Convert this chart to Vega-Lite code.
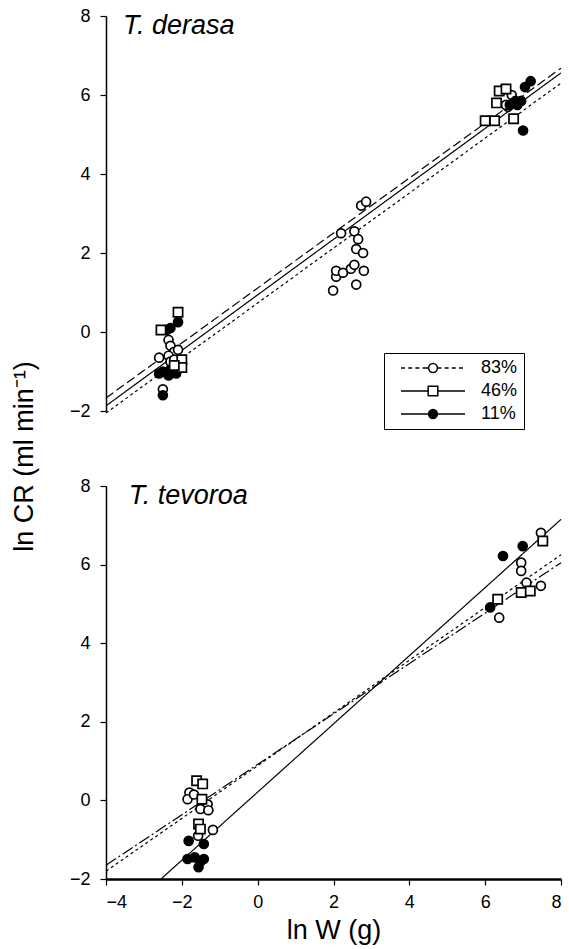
{
  "$schema": "https://vega.github.io/schema/vega-lite/v6.json",
  "padding": {"left": 10, "top": 7, "right": 5, "bottom": 5},
  "background": "white",
  "config": {
    "view": {"stroke": null},
    "font": "Liberation Sans",
    "axis": {"grid": false, "domainColor": "black", "tickColor": "black", "labelColor": "black", "titleColor": "black", "labelFont": "Liberation Sans", "titleFont": "Liberation Sans", "labelFontSize": 18, "titleFontSize": 27, "titleFontWeight": "normal", "domainWidth": 1.5, "tickWidth": 1.2}
  },
  "datasets": {
    "points": [
      {"panel": "T. derasa", "group": "83%", "x": -2.6, "y": -0.65},
      {"panel": "T. derasa", "group": "83%", "x": -2.35, "y": -0.2},
      {"panel": "T. derasa", "group": "83%", "x": -2.3, "y": -0.35},
      {"panel": "T. derasa", "group": "83%", "x": -2.2, "y": -0.5},
      {"panel": "T. derasa", "group": "83%", "x": -2.1, "y": -0.45},
      {"panel": "T. derasa", "group": "83%", "x": -2.35, "y": -0.6},
      {"panel": "T. derasa", "group": "83%", "x": -2.3, "y": -0.75},
      {"panel": "T. derasa", "group": "83%", "x": -2.5, "y": -1.45},
      {"panel": "T. derasa", "group": "83%", "x": -2.2, "y": -0.7},
      {"panel": "T. derasa", "group": "83%", "x": 1.99, "y": 1.05},
      {"panel": "T. derasa", "group": "83%", "x": 2.07, "y": 1.4},
      {"panel": "T. derasa", "group": "83%", "x": 2.07, "y": 1.55},
      {"panel": "T. derasa", "group": "83%", "x": 2.25, "y": 1.5},
      {"panel": "T. derasa", "group": "83%", "x": 2.2, "y": 2.5},
      {"panel": "T. derasa", "group": "83%", "x": 2.46, "y": 1.6},
      {"panel": "T. derasa", "group": "83%", "x": 2.55, "y": 1.7},
      {"panel": "T. derasa", "group": "83%", "x": 2.55, "y": 2.55},
      {"panel": "T. derasa", "group": "83%", "x": 2.65, "y": 2.35},
      {"panel": "T. derasa", "group": "83%", "x": 2.6, "y": 2.1},
      {"panel": "T. derasa", "group": "83%", "x": 2.78, "y": 2.0},
      {"panel": "T. derasa", "group": "83%", "x": 2.8, "y": 1.55},
      {"panel": "T. derasa", "group": "83%", "x": 2.6, "y": 1.2},
      {"panel": "T. derasa", "group": "83%", "x": 2.73, "y": 3.2},
      {"panel": "T. derasa", "group": "83%", "x": 2.86, "y": 3.3},
      {"panel": "T. derasa", "group": "83%", "x": 6.5, "y": 6.15},
      {"panel": "T. derasa", "group": "83%", "x": 6.7, "y": 6.0},
      {"panel": "T. derasa", "group": "83%", "x": 6.6, "y": 5.7},
      {"panel": "T. derasa", "group": "83%", "x": 6.55, "y": 5.75},
      {"panel": "T. derasa", "group": "46%", "x": -2.55, "y": 0.05},
      {"panel": "T. derasa", "group": "46%", "x": -2.1, "y": 0.5},
      {"panel": "T. derasa", "group": "46%", "x": -2.0, "y": -0.7},
      {"panel": "T. derasa", "group": "46%", "x": -2.0, "y": -0.9},
      {"panel": "T. derasa", "group": "46%", "x": -2.2, "y": -0.85},
      {"panel": "T. derasa", "group": "46%", "x": 6.37, "y": 6.1},
      {"panel": "T. derasa", "group": "46%", "x": 6.3, "y": 5.8},
      {"panel": "T. derasa", "group": "46%", "x": 6.0, "y": 5.35},
      {"panel": "T. derasa", "group": "46%", "x": 6.25, "y": 5.35},
      {"panel": "T. derasa", "group": "46%", "x": 6.75, "y": 5.4},
      {"panel": "T. derasa", "group": "46%", "x": 6.55, "y": 6.15},
      {"panel": "T. derasa", "group": "11%", "x": -2.4, "y": 0.05},
      {"panel": "T. derasa", "group": "11%", "x": -2.3, "y": 0.1},
      {"panel": "T. derasa", "group": "11%", "x": -2.1, "y": 0.25},
      {"panel": "T. derasa", "group": "11%", "x": -2.6, "y": -1.05},
      {"panel": "T. derasa", "group": "11%", "x": -2.5, "y": -1.0},
      {"panel": "T. derasa", "group": "11%", "x": -2.3, "y": -0.95},
      {"panel": "T. derasa", "group": "11%", "x": -2.15, "y": -1.05},
      {"panel": "T. derasa", "group": "11%", "x": -2.5, "y": -1.6},
      {"panel": "T. derasa", "group": "11%", "x": -2.35, "y": -1.1},
      {"panel": "T. derasa", "group": "11%", "x": 7.2, "y": 6.35},
      {"panel": "T. derasa", "group": "11%", "x": 7.05, "y": 6.2},
      {"panel": "T. derasa", "group": "11%", "x": 6.8, "y": 5.85},
      {"panel": "T. derasa", "group": "11%", "x": 6.95, "y": 5.85},
      {"panel": "T. derasa", "group": "11%", "x": 6.65, "y": 5.75},
      {"panel": "T. derasa", "group": "11%", "x": 7.0, "y": 5.1},
      {"panel": "T. derasa", "group": "11%", "x": 6.85, "y": 5.75},
      {"panel": "T. tevoroa", "group": "83%", "x": -1.8, "y": 0.2},
      {"panel": "T. tevoroa", "group": "83%", "x": -1.85, "y": 0.03},
      {"panel": "T. tevoroa", "group": "83%", "x": -1.68, "y": 0.15},
      {"panel": "T. tevoroa", "group": "83%", "x": -1.32, "y": -0.1},
      {"panel": "T. tevoroa", "group": "83%", "x": -1.51, "y": -0.22},
      {"panel": "T. tevoroa", "group": "83%", "x": -1.3, "y": -0.25},
      {"panel": "T. tevoroa", "group": "83%", "x": -1.18, "y": -0.75},
      {"panel": "T. tevoroa", "group": "83%", "x": -1.57, "y": -0.9},
      {"panel": "T. tevoroa", "group": "83%", "x": 7.47, "y": 6.81},
      {"panel": "T. tevoroa", "group": "83%", "x": 6.95, "y": 6.05},
      {"panel": "T. tevoroa", "group": "83%", "x": 6.95, "y": 5.84},
      {"panel": "T. tevoroa", "group": "83%", "x": 7.09, "y": 5.54},
      {"panel": "T. tevoroa", "group": "83%", "x": 7.47, "y": 5.46},
      {"panel": "T. tevoroa", "group": "83%", "x": 6.37, "y": 4.65},
      {"panel": "T. tevoroa", "group": "46%", "x": -1.61, "y": 0.5},
      {"panel": "T. tevoroa", "group": "46%", "x": -1.45, "y": 0.42},
      {"panel": "T. tevoroa", "group": "46%", "x": -1.47, "y": 0.03},
      {"panel": "T. tevoroa", "group": "46%", "x": -1.56, "y": -0.6},
      {"panel": "T. tevoroa", "group": "46%", "x": -1.51, "y": -0.73},
      {"panel": "T. tevoroa", "group": "46%", "x": 7.52, "y": 6.6},
      {"panel": "T. tevoroa", "group": "46%", "x": 6.33, "y": 5.12},
      {"panel": "T. tevoroa", "group": "46%", "x": 6.95, "y": 5.29},
      {"panel": "T. tevoroa", "group": "46%", "x": 7.19, "y": 5.33},
      {"panel": "T. tevoroa", "group": "11%", "x": -1.82, "y": -1.03},
      {"panel": "T. tevoroa", "group": "11%", "x": -1.42, "y": -1.11},
      {"panel": "T. tevoroa", "group": "11%", "x": -1.85, "y": -1.49},
      {"panel": "T. tevoroa", "group": "11%", "x": -1.66, "y": -1.45},
      {"panel": "T. tevoroa", "group": "11%", "x": -1.42, "y": -1.49},
      {"panel": "T. tevoroa", "group": "11%", "x": -1.56, "y": -1.7},
      {"panel": "T. tevoroa", "group": "11%", "x": -1.5, "y": -1.55},
      {"panel": "T. tevoroa", "group": "11%", "x": 6.47, "y": 6.22},
      {"panel": "T. tevoroa", "group": "11%", "x": 6.99, "y": 6.47},
      {"panel": "T. tevoroa", "group": "11%", "x": 6.13, "y": 4.91}
    ],
    "lines": [
      {"panel": "T. derasa", "group": "83%", "x": -4, "y": -2.05},
      {"panel": "T. derasa", "group": "83%", "x": 8, "y": 6.3},
      {"panel": "T. derasa", "group": "46%", "x": -4, "y": -1.67},
      {"panel": "T. derasa", "group": "46%", "x": 8, "y": 6.68},
      {"panel": "T. derasa", "group": "11%", "x": -4, "y": -1.87},
      {"panel": "T. derasa", "group": "11%", "x": 8, "y": 6.56},
      {"panel": "T. tevoroa", "group": "83%", "x": -4, "y": -1.8},
      {"panel": "T. tevoroa", "group": "83%", "x": 8, "y": 6.25},
      {"panel": "T. tevoroa", "group": "46%", "x": -4, "y": -1.65},
      {"panel": "T. tevoroa", "group": "46%", "x": 8, "y": 6.05},
      {"panel": "T. tevoroa", "group": "11%", "x": -2.55, "y": -2},
      {"panel": "T. tevoroa", "group": "11%", "x": 8, "y": 7.15}
    ]
  },
  "bounds": "flush",
  "spacing": 75,
  "resolve": {"scale": {"strokeDash": "independent"}},
  "vconcat": [
    {
      "width": 455,
      "height": 395,
      "layer": [
        {
          "data": {"name": "lines"},
          "transform": [{"filter": "datum.panel === 'T. derasa'"}],
          "mark": {"type": "line", "color": "black", "strokeWidth": 1.2},
          "encoding": {
            "x": {"field": "x", "type": "quantitative", "scale": {"domain": [-4, 8], "nice": false, "zero": false}, "axis": null},
            "y": {"field": "y", "type": "quantitative", "scale": {"domain": [-2, 8], "nice": false, "zero": false},
                  "axis": {"title": null, "values": [-2, -1, 0, 1, 2, 3, 4, 5, 6, 7, 8], "labelExpr": "datum.value % 2 === 0 ? datum.label : ''", "tickSize": {"condition": {"test": "datum.value % 2 === 0", "value": 6}, "value": 3}, "labelPadding": 10}},
            "strokeDash": {"field": "group", "type": "nominal", "scale": {"domain": ["83%", "46%", "11%"], "range": [[3, 3], [9, 4], [1, 0]]}, "legend": null}
          }
        },
        {
          "data": {"name": "points"},
          "transform": [{"filter": "datum.panel === 'T. derasa' && datum.group !== '46%'"}],
          "mark": {"type": "circle", "stroke": "black", "strokeWidth": 1.7, "opacity": 1, "size": 80},
          "encoding": {
            "x": {"field": "x", "type": "quantitative"},
            "y": {"field": "y", "type": "quantitative"},
            "fill": {"condition": {"test": "datum.group === '11%'", "value": "black"}, "value": "white"}
          }
        },
        {
          "data": {"name": "points"},
          "transform": [{"filter": "datum.panel === 'T. derasa' && datum.group === '46%'"}],
          "mark": {"type": "square", "fill": "white", "stroke": "black", "strokeWidth": 1.7, "opacity": 1, "size": 85},
          "encoding": {
            "x": {"field": "x", "type": "quantitative"},
            "y": {"field": "y", "type": "quantitative"}
          }
        },
        {
          "data": {"name": "points"},
          "transform": [{"filter": "false"}],
          "mark": {"type": "point", "filled": true, "opacity": 1, "stroke": "black", "strokeWidth": 1.3},
          "encoding": {
            "shape": {"field": "group", "type": "nominal",
              "scale": {"domain": ["83%", "46%", "11%"], "range": [
                "M0.5,0H1.5M2.3,0H3.3M4.1,0H5.1M5.9,0H7.4M7.4,0A1.1,1.1 0 1,1 9.6,0A1.1,1.1 0 1,1 7.4,0ZM9.6,0H10.6M11.4,0H12.4M13.2,0H14.2M15,0H16",
                "M0.5,0H7.3M9.7,0H16.5M7.3,-1.2H9.7V1.2H7.3Z",
                "M0.5,0H7.4M9.6,0H16.5M7.4,0A1.1,1.1 0 1,1 9.6,0A1.1,1.1 0 1,1 7.4,0Z"]},
              "legend": {"title": null, "orient": "none", "legendX": 278, "legendY": 337, "direction": "vertical", "strokeColor": "black", "fillColor": "white", "padding": 6, "labelFontSize": 18, "labelFont": "Liberation Sans", "labelColor": "black", "labelOffset": 73, "rowPadding": 5, "symbolSize": 64, "symbolOpacity": 1,
                "encode": {"symbols": {"stroke": {"value": "black"}, "strokeWidth": {"value": 1.3}}}}},
            "fill": {"field": "group", "type": "nominal",
              "scale": {"domain": ["83%", "46%", "11%"], "range": ["white", "white", "black"]},
              "legend": {"title": null, "orient": "none", "legendX": 278, "legendY": 337, "direction": "vertical", "strokeColor": "black", "fillColor": "white", "padding": 6, "labelFontSize": 18, "labelFont": "Liberation Sans", "labelColor": "black", "labelOffset": 73, "rowPadding": 5, "symbolSize": 64, "symbolOpacity": 1,
                "encode": {"symbols": {"stroke": {"value": "black"}, "strokeWidth": {"value": 1.3}}}}}
          }
        },
        {
          "data": {"values": [{}]},
          "mark": {"type": "text", "align": "left", "baseline": "middle", "fontSize": 27, "fontStyle": "italic", "font": "Liberation Sans", "color": "black"},
          "encoding": {"x": {"datum": -3.55, "type": "quantitative"}, "y": {"datum": 7.75, "type": "quantitative"}, "text": {"value": "T. derasa"}}
        }
      ]
    },
    {
      "width": 455,
      "height": 393,
      "layer": [
        {
          "data": {"name": "lines"},
          "transform": [{"filter": "datum.panel === 'T. tevoroa'"}],
          "mark": {"type": "line", "color": "black", "strokeWidth": 1.2},
          "encoding": {
            "x": {"field": "x", "type": "quantitative", "scale": {"domain": [-4, 8], "nice": false, "zero": false},
                  "axis": {"title": "ln W (g)", "values": [-4, -3, -2, -1, 0, 1, 2, 3, 4, 5, 6, 7, 8], "labelExpr": "datum.value % 2 === 0 ? datum.label : ''", "tickSize": {"condition": {"test": "datum.value % 2 === 0", "value": 6}, "value": 3}, "labelPadding": 8, "domainWidth": 2.5, "titlePadding": 6}},
            "y": {"field": "y", "type": "quantitative", "scale": {"domain": [-2, 8], "nice": false, "zero": false},
                  "axis": {"title": "ln CR (ml min⁻¹)", "titleX": -74, "titleY": -30, "titleAlign": "center", "titleBaseline": "alphabetic", "values": [-2, -1, 0, 1, 2, 3, 4, 5, 6, 7, 8], "labelExpr": "datum.value % 2 === 0 ? datum.label : ''", "tickSize": {"condition": {"test": "datum.value % 2 === 0", "value": 6}, "value": 3}, "labelPadding": 10}},
            "strokeDash": {"field": "group", "type": "nominal", "scale": {"domain": ["83%", "46%", "11%"], "range": [[3, 3], [12, 3, 2, 3], [1, 0]]}, "legend": null}
          }
        },
        {
          "data": {"name": "points"},
          "transform": [{"filter": "datum.panel === 'T. tevoroa' && datum.group !== '46%'"}],
          "mark": {"type": "circle", "stroke": "black", "strokeWidth": 1.7, "opacity": 1, "size": 80},
          "encoding": {
            "x": {"field": "x", "type": "quantitative"},
            "y": {"field": "y", "type": "quantitative"},
            "fill": {"condition": {"test": "datum.group === '11%'", "value": "black"}, "value": "white"}
          }
        },
        {
          "data": {"name": "points"},
          "transform": [{"filter": "datum.panel === 'T. tevoroa' && datum.group === '46%'"}],
          "mark": {"type": "square", "fill": "white", "stroke": "black", "strokeWidth": 1.7, "opacity": 1, "size": 85},
          "encoding": {
            "x": {"field": "x", "type": "quantitative"},
            "y": {"field": "y", "type": "quantitative"}
          }
        },
        {
          "data": {"values": [{}]},
          "mark": {"type": "text", "align": "left", "baseline": "middle", "fontSize": 27, "fontStyle": "italic", "font": "Liberation Sans", "color": "black"},
          "encoding": {"x": {"datum": -3.4, "type": "quantitative"}, "y": {"datum": 7.75, "type": "quantitative"}, "text": {"value": "T. tevoroa"}}
        }
      ]
    }
  ]
}
